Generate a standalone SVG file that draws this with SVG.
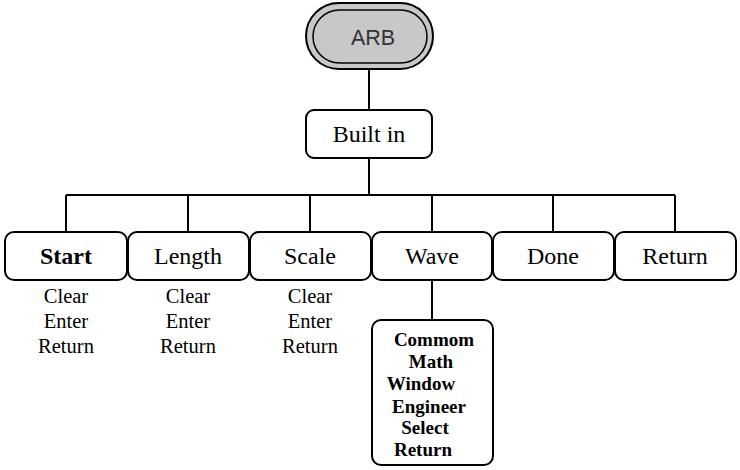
<svg xmlns="http://www.w3.org/2000/svg" width="740" height="470" viewBox="0 0 740 470">
<style>
.box{fill:#fff;stroke:#000;stroke-width:2}
.ln{stroke:#000;stroke-width:2;fill:none}
.lbl{font-family:"Liberation Serif","Times New Roman",serif;font-size:24px;text-anchor:middle;fill:#000}
.sub{font-family:"Liberation Serif","Times New Roman",serif;font-size:20.5px;text-anchor:middle;fill:#000}
.wsub{font-family:"Liberation Serif","Times New Roman",serif;font-size:19px;font-weight:bold;text-anchor:middle;fill:#000}
</style>
<rect width="740" height="470" fill="#fff"/>
<g id="connectors">
<line class="ln" x1="369" y1="69" x2="369" y2="110"/>
<line class="ln" x1="369" y1="158" x2="369" y2="195"/>
<line class="ln" x1="66" y1="195" x2="675" y2="195"/>
<line class="ln" x1="66" y1="195" x2="66" y2="232"/>
<line class="ln" x1="188" y1="195" x2="188" y2="232"/>
<line class="ln" x1="310" y1="195" x2="310" y2="232"/>
<line class="ln" x1="432" y1="195" x2="432" y2="232"/>
<line class="ln" x1="553" y1="195" x2="553" y2="232"/>
<line class="ln" x1="675" y1="195" x2="675" y2="232"/>
<line class="ln" x1="432" y1="280" x2="432" y2="320"/>
</g>
<g id="arb">
<rect x="306" y="3" width="127" height="66" rx="33" fill="#c8c8c8" stroke="#000" stroke-width="2"/>
<rect x="313" y="10" width="114" height="53" rx="26.5" fill="#c8c8c8" stroke="#000" stroke-width="1.5"/>
<text x="373" y="45" font-family="Liberation Sans, Arial, sans-serif" font-size="21.5" text-anchor="middle" fill="#333">ARB</text>
</g>
<g id="builtin">
<rect class="box" x="306" y="110" width="126" height="48" rx="8"/>
<text class="lbl" x="369" y="142">Built in</text>
</g>
<g id="start">
<rect class="box" x="5" y="232" width="122" height="48" rx="9"/>
<text class="lbl" x="66" y="264" font-size="21" font-weight="bold">Start</text>
<text class="sub" x="66" y="303">Clear</text>
<text class="sub" x="66" y="328">Enter</text>
<text class="sub" x="66" y="353">Return</text>
</g>
<g id="length">
<rect class="box" x="128" y="232" width="121" height="48" rx="9"/>
<text class="lbl" x="188" y="264">Length</text>
<text class="sub" x="188" y="303">Clear</text>
<text class="sub" x="188" y="328">Enter</text>
<text class="sub" x="188" y="353">Return</text>
</g>
<g id="scale">
<rect class="box" x="250" y="232" width="121" height="48" rx="9"/>
<text class="lbl" x="310" y="264">Scale</text>
<text class="sub" x="310" y="303">Clear</text>
<text class="sub" x="310" y="328">Enter</text>
<text class="sub" x="310" y="353">Return</text>
</g>
<g id="wave">
<rect class="box" x="372" y="232" width="120" height="48" rx="9"/>
<text class="lbl" x="432" y="264">Wave</text>
</g>
<g id="done">
<rect class="box" x="493" y="232" width="121" height="48" rx="9"/>
<text class="lbl" x="553" y="264">Done</text>
</g>
<g id="return">
<rect class="box" x="615" y="232" width="121" height="48" rx="9"/>
<text class="lbl" x="675" y="264">Return</text>
</g>
<g id="wavesub">
<rect class="box" x="372" y="320" width="121" height="145" rx="9"/>
<text class="wsub" x="434" y="346">Commom</text>
<text class="wsub" x="431" y="368">Math</text>
<text class="wsub" x="421" y="390">Window</text>
<text class="wsub" x="429" y="413">Engineer</text>
<text class="wsub" x="425" y="434">Select</text>
<text class="wsub" x="423" y="456">Return</text>
</g>
</svg>
